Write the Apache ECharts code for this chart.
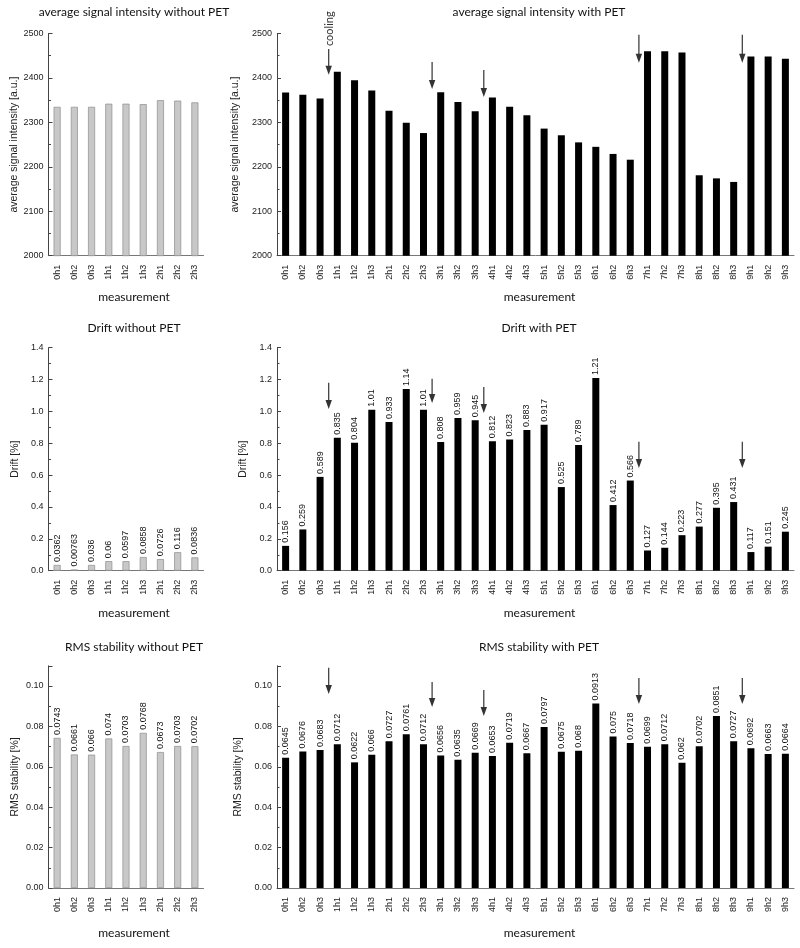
<!DOCTYPE html>
<html>
<head>
<meta charset="utf-8">
<script src="https://cdn.jsdelivr.net/npm/echarts@6/dist/echarts.min.js"></script>
<style>
html,body{margin:0;padding:0;background:#fff;}
#chart{width:800px;height:948px;}
</style>
</head>
<body>
<div id="chart"></div>
<script>
// ---- data ----
const catsNoPet = ['0h1','0h2','0h3','1h1','1h2','1h3','2h1','2h2','2h3'];
const catsPet = ['0h1','0h2','0h3','1h1','1h2','1h3','2h1','2h2','2h3','3h1','3h2','3h3','4h1','4h2','4h3','5h1','5h2','5h3','6h1','6h2','6h3','7h1','7h2','7h3','8h1','8h2','8h3','9h1','9h2','9h3'];

const intensityNoPet = [2335,2335,2335,2342,2342,2341,2350,2349,2345];
const intensityPet = [2367,2362,2354,2414,2395,2372,2326,2299,2276,2368,2346,2325,2356,2335,2316,2286,2271,2255,2245,2229,2216,2460,2460,2457,2181,2174,2166,2448,2448,2443];

const driftNoPet = [0.0362,0.00763,0.036,0.06,0.0597,0.0858,0.0726,0.116,0.0836];
const driftPet = [0.156,0.259,0.589,0.835,0.804,1.01,0.933,1.14,1.01,0.808,0.959,0.945,0.812,0.823,0.883,0.917,0.525,0.789,1.21,0.412,0.566,0.127,0.144,0.223,0.277,0.395,0.431,0.117,0.151,0.245];

const rmsNoPet = [0.0743,0.0661,0.066,0.074,0.0703,0.0768,0.0673,0.0703,0.0702];
const rmsPet = [0.0645,0.0676,0.0683,0.0712,0.0622,0.066,0.0727,0.0761,0.0712,0.0656,0.0635,0.0669,0.0653,0.0719,0.0667,0.0797,0.0675,0.068,0.0913,0.075,0.0718,0.0699,0.0712,0.062,0.0702,0.0851,0.0727,0.0692,0.0663,0.0664];

// arrows: [category before which the arrow sits, tail value, tip value]
const arrowsIntensity = [['1h1',2465,2407],['3h1',2436,2375],['4h1',2418,2357],['7h1',2497,2434],['9h1',2497,2434]];
const arrowLabelsIntensity = ['cooling','','','',''];
const arrowsDrift = [['1h1',1.18,1.015],['3h1',1.205,1.053],['4h1',1.153,0.99],['7h1',0.81,0.645],['9h1',0.81,0.645]];
const arrowsRms = [['1h1',0.109,0.096],['3h1',0.102,0.0896],['4h1',0.098,0.0851],['7h1',0.104,0.0911],['9h1',0.104,0.0911]];

const titles = ['average signal intensity without PET','average signal intensity with PET','Drift without PET','Drift with PET','RMS stability without PET','RMS stability with PET'];
const yNames = ['average signal intensity [a.u.]','Drift [%]','RMS stability [%]'];

// ---- layout ----
const SANS = 'Lato';
const ARIAL = '"Liberation Sans", Arial, sans-serif';
const leftG = {left:48.5, width:155};
const rightG = {left:277, width:517};
const rows = [
  {top:33.5, height:222.2, nameGap:35.5},
  {top:347.7, height:223, nameGap:36},
  {top:665.8, height:222.2, nameGap:39}
];
const titleCenters = [134, 539];
const titleY = [13.3, 329, 648.3];

const chart = echarts.init(document.getElementById('chart'), null, {renderer:'canvas'});

const grids = [], xAxes = [], yAxes = [], series = [], titleArr = [];

const yConf = [
  {min:2000, max:2500, interval:100, fmt: v => String(v)},
  {min:0, max:1.4, interval:0.2, fmt: v => v.toFixed(1)},
  {min:0, max:0.11, interval:0.02, fmt: v => v.toFixed(2)}
];
const dataNo = [intensityNoPet, driftNoPet, rmsNoPet];
const dataYes = [intensityPet, driftPet, rmsPet];
const arrowSets = [arrowsIntensity, arrowsDrift, arrowsRms];
const arrowLabelSets = [arrowLabelsIntensity, [], []];

function arrowRender(labels) {
  return function (params, api) {
    const idx = api.value(0);
    const p1 = api.coord([idx, api.value(1)]);
    const p2 = api.coord([idx, api.value(2)]);
    const bw = api.size([1, 0])[0];
    const x = p1[0] - bw / 2;
    const headH = 9, headW = 3.2;
    const children = [
      {type:'line', shape:{x1:x, y1:p1[1], x2:x, y2:p2[1]-headH+1}, style:{stroke:'#333', lineWidth:1.2}},
      {type:'polygon', shape:{points:[[x-headW, p2[1]-headH],[x+headW, p2[1]-headH],[x, p2[1]]]}, style:{fill:'#333'}}
    ];
    const lab = labels[params.dataIndex];
    if (lab) {
      children.push({type:'text', x:x+1, y:p1[1]-3, rotation:Math.PI/2,
        style:{text:lab, fill:'#333', fontSize:11, fontFamily:SANS, align:'left', verticalAlign:'middle'}});
    }
    return {type:'group', children};
  };
}

for (let r = 0; r < 3; r++) {
  for (let c = 0; c < 2; c++) {
    const gi = r * 2 + c;
    const g = c === 0 ? leftG : rightG;
    const cats = c === 0 ? catsNoPet : catsPet;
    grids.push({left:g.left, width:g.width, top:rows[r].top, height:rows[r].height, containLabel:false});
    titleArr.push({text:titles[gi], left:titleCenters[c], top:titleY[r]-7, textAlign:'center', padding:0,
      textStyle:{fontFamily:SANS, fontSize:12, fontWeight:'normal', color:'#111'}});
    xAxes.push({type:'category', gridIndex:gi, data:cats,
      name:'measurement', nameLocation:'middle', nameGap:rows[r].nameGap,
      nameTextStyle:{fontFamily:SANS, fontSize:12, color:'#111', padding:[0,0,0,c===0?16:8]},
      axisLine:{show:true, lineStyle:{color:'#777', width:1}},
      axisTick:{show:false},
      axisLabel:{interval:0, rotate:90, margin:9, fontSize:9, fontFamily:ARIAL, color:'#222'}});
    const yc = yConf[r];
    yAxes.push({type:'value', gridIndex:gi, min:yc.min, max:yc.max, interval:yc.interval,
      name:yNames[r], nameLocation:'middle', nameGap:28,
      nameTextStyle:{fontFamily:ARIAL, fontSize:10.5, color:'#222'},
      axisLine:{show:true, lineStyle:{color:'#444', width:1}},
      axisTick:{show:true, inside:true, length:4, lineStyle:{color:'#444'}},
      minorTick:{show:true, splitNumber:2, length:2.5, lineStyle:{color:'#444'}},
      splitLine:{show:false}, minorSplitLine:{show:false},
      axisLabel:{margin:5, fontSize:9, fontFamily:ARIAL, color:'#222', showMaxLabel: r !== 2,
        formatter: yc.fmt}});
    const vals = c === 0 ? dataNo[r] : dataYes[r];
    series.push({type:'bar', xAxisIndex:gi, yAxisIndex:gi, data:vals, barWidth:7,
      itemStyle: c === 0 ? {color:'#c8c8c8', borderColor:'#8c8c8c', borderWidth:0.7} : {color:'#000'},
      label: r === 0 ? {show:false} : {show:true, position:'top', rotate:90, align:'left', verticalAlign:'middle',
        distance:3, fontSize:9, fontFamily:ARIAL, color:'#111', formatter: p => String(p.value)},
      animation:false});
    if (c === 1) {
      series.push({type:'custom', xAxisIndex:gi, yAxisIndex:gi, data:arrowSets[r],
        encode:{x:0, y:[1,2]}, renderItem:arrowRender(arrowLabelSets[r]), clip:false, silent:true, animation:false});
    }
  }
}

chart.setOption({
  animation:false,
  backgroundColor:'#fff',
  title:titleArr,
  grid:grids,
  xAxis:xAxes,
  yAxis:yAxes,
  series:series
});
</script>
</body>
</html>
